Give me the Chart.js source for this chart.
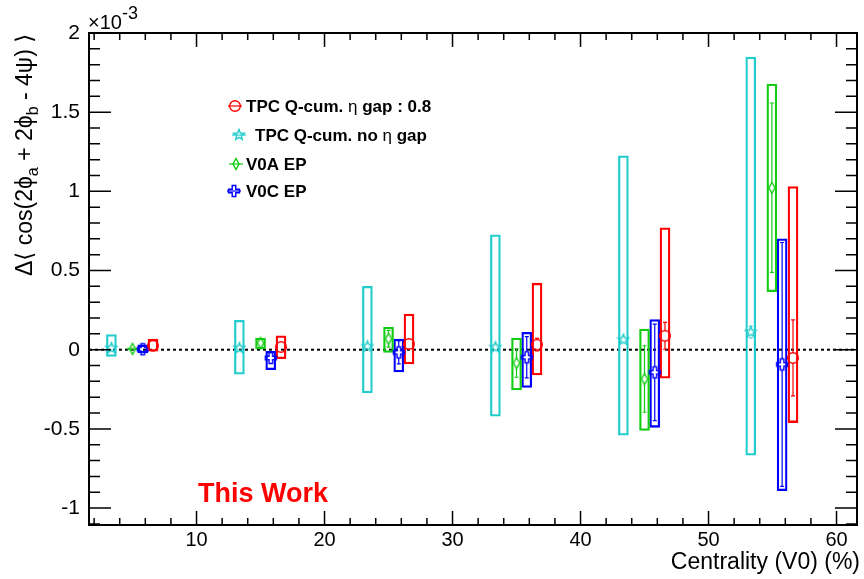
<!DOCTYPE html>
<html>
<head>
<meta charset="utf-8">
<script src="https://cdn.jsdelivr.net/npm/chart.js@4.4.1/dist/chart.umd.min.js"></script>
<style>
  html, body { margin: 0; padding: 0; background: #fff; }
</style>
</head>
<body>
<canvas id="c" width="864" height="579"></canvas>
<script>
/* ---------- data (values in units of 1e-3) ---------- */
const xTicks = [10, 20, 30, 40, 50, 60];
const yTicks = [-1, -0.5, 0, 0.5, 1, 1.5, 2];
const xRange = [1.6, 61.6];
const yRange = [-1.107, 2];

// TPC Q-cum. eta gap 0.8 (red)
const gapX    = [6.6, 16.6, 26.6, 36.6, 46.6, 56.6];
const gapVal  = [0.025, 0.017, 0.036, 0.032, 0.088, -0.052];
const gapStat = [0.01, 0.015, 0.02, 0.04, 0.085, 0.24];
const gapLo   = [-0.01, -0.057, -0.09, -0.16, -0.18, -0.46];
const gapHi   = [0.067, 0.088, 0.225, 0.42, 0.77, 1.03];

// TPC Q-cum. no eta gap (cyan)
const noGapX    = [3.35, 13.35, 23.35, 33.35, 43.35, 53.3];
const noGapVal  = [0.01, 0.01, 0.021, 0.015, 0.063, 0.111];
const noGapStat = [0.005, 0.01, 0.015, 0.02, 0.03, 0.037];
const noGapLo   = [-0.042, -0.155, -0.273, -0.42, -0.54, -0.666];
const noGapHi   = [0.095, 0.185, 0.40, 0.725, 1.225, 1.848];

// V0A EP (green)
const v0aX    = [5, 15, 25, 35, 45, 54.95];
const v0aVal  = [0.005, 0.042, 0.069, -0.084, -0.185, 1.023];
const v0aStat = [0.005, 0.015, 0.053, 0.09, 0.21, 0.535];
const v0aLo   = [-0.002, 0.005, -0.017, -0.254, -0.51, 0.366];
const v0aHi   = [0.012, 0.074, 0.143, 0.074, 0.13, 1.678];

// V0C EP (blue)
const v0cX    = [5.8, 15.8, 25.8, 35.8, 45.8, 55.75];
const v0cVal  = [0.003, -0.052, -0.017, -0.048, -0.143, -0.093];
const v0cStat = [0.005, 0.03, 0.073, 0.13, 0.305, 0.77];
const v0cLo   = [-0.02, -0.126, -0.141, -0.238, -0.49, -0.89];
const v0cHi   = [0.03, -0.01, 0.067, 0.109, 0.19, 0.70];

const FONT = '"Liberation Sans", Arial, "DejaVu Sans", sans-serif';

/* ---------- ROOT-like open markers ---------- */
function makeMarker(kind, color) {
  const c = document.createElement('canvas');
  c.width = 16; c.height = 16;
  const g = c.getContext('2d');
  g.strokeStyle = color;
  g.lineWidth = 1.4;
  g.translate(8, 8);
  g.beginPath();
  if (kind === 'circle') {
    g.arc(0, 0, 5.3, 0, Math.PI * 2);
  } else if (kind === 'star') {
    for (let i = 0; i < 10; i++) {
      const r = i % 2 ? 2.4 : 5.6;
      const a = -Math.PI / 2 + i * Math.PI / 5;
      g.lineTo(r * Math.cos(a), r * Math.sin(a));
    }
    g.closePath();
  } else if (kind === 'diamond') {
    g.moveTo(0, -5.5); g.lineTo(3, 0); g.lineTo(0, 5.5); g.lineTo(-3, 0);
    g.closePath();
  } else if (kind === 'cross') {
    const w = 1.8, l = 5.5;
    const p = [[-w,-l],[w,-l],[w,-w],[l,-w],[l,w],[w,w],[w,l],[-w,l],[-w,w],[-l,w],[-l,-w],[-w,-w]];
    p.forEach(q => g.lineTo(q[0], q[1]));
    g.closePath();
  }
  g.stroke();
  return c;
}

const series = [
  { x: gapX,   val: gapVal,   stat: gapStat,   lo: gapLo,   hi: gapHi,   color: '#ff0000', kind: 'circle',  r: 5 },
  { x: noGapX, val: noGapVal, stat: noGapStat, lo: noGapLo, hi: noGapHi, color: '#22cccc', kind: 'star',    r: 5 },
  { x: v0aX,   val: v0aVal,   stat: v0aStat,   lo: v0aLo,   hi: v0aHi,   color: '#11cc11', kind: 'diamond', r: 5.5 },
  { x: v0cX,   val: v0cVal,   stat: v0cStat,   lo: v0cLo,   hi: v0cHi,   color: '#0000ff', kind: 'cross',   r: 5.5 }
];
series.forEach(s => s.img = makeMarker(s.kind, s.color));

const datasets = [];
series.forEach(s => {
  datasets.push({
    type: 'scatter',
    data: s.x.map((xx, i) => ({ x: xx, y: s.val[i] })),
    pointStyle: s.img,
    pointRadius: 6,
    order: 0
  });
  datasets.push({
    type: 'bar',
    data: s.x.map((xx, i) => ({ x: xx, y: [s.lo[i], s.hi[i]] })),
    borderColor: s.color,
    backgroundColor: 'rgba(0,0,0,0)',
    borderWidth: 1.6,
    borderSkipped: false,
    barThickness: 10,
    grouped: false,
    order: 1
  });
});
// dashed zero line
datasets.push({
  type: 'line',
  data: [{ x: xRange[0], y: 0 }, { x: xRange[1], y: 0 }],
  borderColor: '#000',
  borderWidth: 2,
  borderDash: [3, 3],
  pointRadius: 0,
  order: 2
});

/* ---------- stat error bars ---------- */
const errorBars = {
  id: 'errorBars',
  afterDatasetsDraw(chart) {
    const { ctx, scales: { x, y } } = chart;
    ctx.save();
    ctx.lineWidth = 1.2;
    series.forEach(s => {
      ctx.strokeStyle = s.color;
      s.x.forEach((xx, i) => {
        const px = x.getPixelForValue(xx);
        const pc = y.getPixelForValue(s.val[i]);
        const pt = y.getPixelForValue(s.val[i] + s.stat[i]);
        const pb = y.getPixelForValue(s.val[i] - s.stat[i]);
        ctx.beginPath();
        if (pc - pt > s.r) {
          ctx.moveTo(px, pc - s.r); ctx.lineTo(px, pt);
          ctx.moveTo(px - 2, pt); ctx.lineTo(px + 2, pt);
        }
        if (pb - pc > s.r) {
          ctx.moveTo(px, pc + s.r); ctx.lineTo(px, pb);
          ctx.moveTo(px - 2, pb); ctx.lineTo(px + 2, pb);
        }
        ctx.stroke();
      });
    });
    ctx.restore();
  }
};

/* ---------- frame, ticks, titles, legend ---------- */
function drawParts(ctx, parts, x0, y0) {
  let cx = x0;
  parts.forEach(p => {
    ctx.font = p.font;
    ctx.fillText(p.t, cx, y0 + (p.dy || 0));
    cx += ctx.measureText(p.t).width;
  });
  return cx - x0;
}

const decor = {
  id: 'decor',
  afterDraw(chart) {
    const { ctx, chartArea: a, scales: { x, y } } = chart;
    ctx.save();
    ctx.strokeStyle = '#000';
    ctx.lineWidth = 2;
    ctx.strokeRect(a.left, a.top, a.right - a.left, a.bottom - a.top);

    ctx.lineWidth = 1.5;
    ctx.beginPath();
    for (let i = 1; i <= 30; i++) {
      const v = i * 2;
      const px = x.getPixelForValue(v);
      if (px <= a.left || px >= a.right) continue;
      const len = v % 10 === 0 ? 14 : 7;
      ctx.moveTo(px, a.bottom); ctx.lineTo(px, a.bottom - len);
      ctx.moveTo(px, a.top); ctx.lineTo(px, a.top + len);
    }
    for (let i = -11; i <= 20; i++) {
      const py = y.getPixelForValue(i / 10);
      if (py < a.top || py > a.bottom) continue;
      const len = i % 5 === 0 ? 22 : 11;
      ctx.moveTo(a.left, py); ctx.lineTo(a.left + len, py);
      ctx.moveTo(a.right, py); ctx.lineTo(a.right - len, py);
    }
    ctx.stroke();

    ctx.fillStyle = '#000';
    // exponent
    ctx.textBaseline = 'alphabetic';
    ctx.textAlign = 'left';
    drawParts(ctx, [
      { t: '\u00d710', font: '20px ' + FONT },
      { t: '-3', font: '18px ' + FONT, dy: -10 }
    ], 88, 29);

    // x title
    ctx.textAlign = 'right';
    ctx.font = '23px ' + FONT;
    ctx.fillText('Centrality (V0) (%)', 860, 569);

    // y title (rotated)
    ctx.save();
    ctx.translate(32, 276);
    ctx.rotate(-Math.PI / 2);
    ctx.textAlign = 'left';
    const main = '23px ' + FONT, sub = '16px ' + FONT;
    drawParts(ctx, [
      { t: '\u0394\u27e8 cos(2\u03d5', font: main },
      { t: 'a', font: sub, dy: 6 },
      { t: ' + 2\u03d5', font: main },
      { t: 'b', font: sub, dy: 6 },
      { t: ' - 4\u03c8) \u27e9', font: main }
    ], 0, 0);
    ctx.restore();

    // This Work
    ctx.textAlign = 'left';
    ctx.fillStyle = '#ff0000';
    ctx.font = 'bold 27px ' + FONT;
    ctx.fillText('This Work', 198, 502);

    // legend
    const rows = [
      { s: series[0], y: 106, mx: 235, tx: 246, parts: [['TPC Q-cum. ', 1], ['\u03b7', 0], [' gap : 0.8', 1]] },
      { s: series[1], y: 135, mx: 239, tx: 255, parts: [['TPC Q-cum. no ', 1], ['\u03b7', 0], [' gap', 1]] },
      { s: series[2], y: 164, mx: 236, tx: 246, parts: [['V0A EP', 1]] },
      { s: series[3], y: 191, mx: 234, tx: 246, parts: [['V0C EP', 1]] }
    ];
    ctx.textBaseline = 'middle';
    rows.forEach(r => {
      ctx.strokeStyle = r.s.color;
      ctx.lineWidth = 1.2;
      ctx.beginPath();
      ctx.moveTo(r.mx - 7, r.y); ctx.lineTo(r.mx + 7, r.y);
      ctx.stroke();
      ctx.drawImage(r.s.img, r.mx - 8, r.y - 8);
      ctx.fillStyle = '#000';
      drawParts(ctx, r.parts.map(p => ({ t: p[0], font: (p[1] ? 'bold ' : '') + '17px ' + FONT })), r.tx, r.y + 1);
    });
    ctx.restore();
  }
};

new Chart(document.getElementById('c'), {
  type: 'bar',
  data: { datasets },
  options: {
    responsive: false,
    animation: false,
    devicePixelRatio: 1,
    layout: { padding: { left: 0, right: 3, top: 33, bottom: 0 } },
    plugins: { legend: { display: false }, tooltip: { enabled: false } },
    scales: {
      x: {
        type: 'linear',
        min: xRange[0], max: xRange[1],
        offset: false,
        grid: { display: false, drawTicks: false },
        border: { display: false },
        afterBuildTicks: sc => { sc.ticks = xTicks.map(v => ({ value: v })); },
        afterFit: sc => { sc.height = 54; },
        ticks: {
          autoSkip: false, maxRotation: 0, padding: 3,
          color: '#000', font: { family: FONT, size: 20 },
          callback: v => String(v)
        }
      },
      y: {
        type: 'linear',
        min: yRange[0], max: yRange[1],
        grid: { display: false, drawTicks: false },
        border: { display: false },
        afterBuildTicks: sc => { sc.ticks = yTicks.map(v => ({ value: v })); },
        afterFit: sc => { sc.width = 89; },
        ticks: {
          padding: 9,
          color: '#000', font: { family: FONT, size: 21 },
          callback: v => String(v)
        }
      }
    }
  },
  plugins: [errorBars, decor]
});
</script>
</body>
</html>
